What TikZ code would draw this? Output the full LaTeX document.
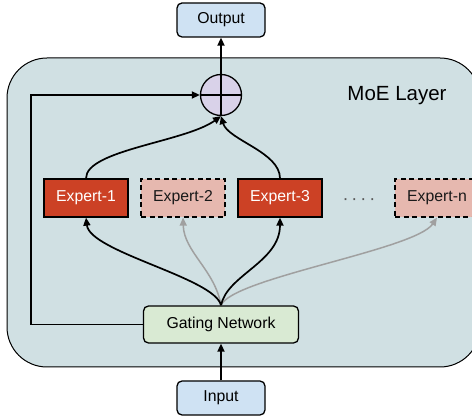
\documentclass[tikz,border=0pt]{standalone}
\usepackage{fontspec}
\setmainfont{Liberation Sans}
\usetikzlibrary{arrows.meta}
\definecolor{ioblue}{HTML}{CFE2F3}
\definecolor{layerbg}{HTML}{D0E0E3}
\definecolor{expon}{HTML}{CC4125}
\definecolor{expoff}{HTML}{E6B8AF}
\definecolor{gatefill}{HTML}{D9EAD3}
\definecolor{sumfill}{HTML}{D9D2E9}
\definecolor{grayline}{HTML}{A0A0A0}
\tikzset{
  iobox/.style={draw=black, line width=1.3pt, fill=ioblue, rounded corners=5pt,
    minimum width=88pt, minimum height=34pt, inner sep=0pt, font=\fontsize{15.8}{18}\selectfont},
  expon/.style={draw=black, line width=1.3pt, fill=expon, text=white,
    minimum width=84pt, minimum height=38pt, inner sep=0pt, font=\fontsize{15.8}{18}\selectfont},
  expoff/.style={draw=black, line width=1.3pt, fill=expoff, text=black!90, dash pattern=on 5pt off 3.5pt,
    minimum width=84pt, minimum height=38pt, inner sep=0pt, font=\fontsize{15.8}{18}\selectfont},
  gatebox/.style={draw=black, line width=1.3pt, fill=gatefill, rounded corners=5pt,
    minimum width=155pt, minimum height=37pt, inner sep=0pt, font=\fontsize{15.8}{18}\selectfont},
  sumnode/.style={circle, draw=black, line width=1.3pt, fill=sumfill, minimum size=41pt, inner sep=0pt},
  conn/.style={line width=1.7pt, -{Triangle[length=8pt,width=7pt]}},
  gconn/.style={line width=1.5pt, draw=grayline, -{Triangle[length=8pt,width=7pt,fill=grayline]}},
}
\begin{document}
\begin{tikzpicture}[x=1pt,y=-1pt]
\useasboundingbox (0,0) rectangle (472,419);
\clip (0,0) rectangle (472,419);
% layer background
\draw[line width=1pt, fill=layerbg, rounded corners=40pt] (7,58) rectangle (480,367);
\node[anchor=center, font=\fontsize{20.5}{24}\selectfont] (moe) at (397,96) {MoE Layer};

\node[iobox] (out) at (221,20) {Output};
\node[iobox] (in) at (221,398) {Input};
\node[gatebox] (gate) at (221,324.5) {Gating Network};
\node[sumnode] (sum) at (221,95) {};
\draw[line width=1.3pt] (sum.north) -- (sum.south);
\draw[line width=1.3pt] (sum.west) -- (sum.east);

\node[expon] (e1) at (86,198) {Expert-1};
\node[expoff] (e2) at (183,198) {Expert-2};
\node[expon] (e3) at (280,198) {Expert-3};
\node[expoff] (en) at (437,198) {Expert-n};
\node[font=\fontsize{18}{20}\selectfont, text=black!65, inner sep=0pt] (dots) at (359,202) {·\,·\,·\,·};

% connectors
\draw[conn] (in.north) -- (gate.south);
\draw[conn] (sum.north) -- (out.south);
\coordinate (fbl) at (31,324.5);
\coordinate (fbt) at (31,95);
\draw[line width=1.7pt, -{Triangle[length=8pt,width=7pt]}] (gate.west) -- (fbl) -- (fbt) -- (sum.west);

\draw[gconn] (gate.north) .. controls (215,270) and (184,252) .. (e2.south);
\draw[gconn] (gate.north) .. controls (232,278) and (415,250) .. (en.south);
\draw[conn] (gate.north) .. controls (215,278) and (90,252) .. (e1.south);
\draw[conn] (gate.north) .. controls (227,275) and (280,262) .. (e3.south);

\draw[conn] (e1.north) .. controls (86,150) and (185,142) .. (sum.south);
\draw[conn] (e3.north) .. controls (280,152) and (228,140) .. (sum.south);
\end{tikzpicture}
\end{document}
